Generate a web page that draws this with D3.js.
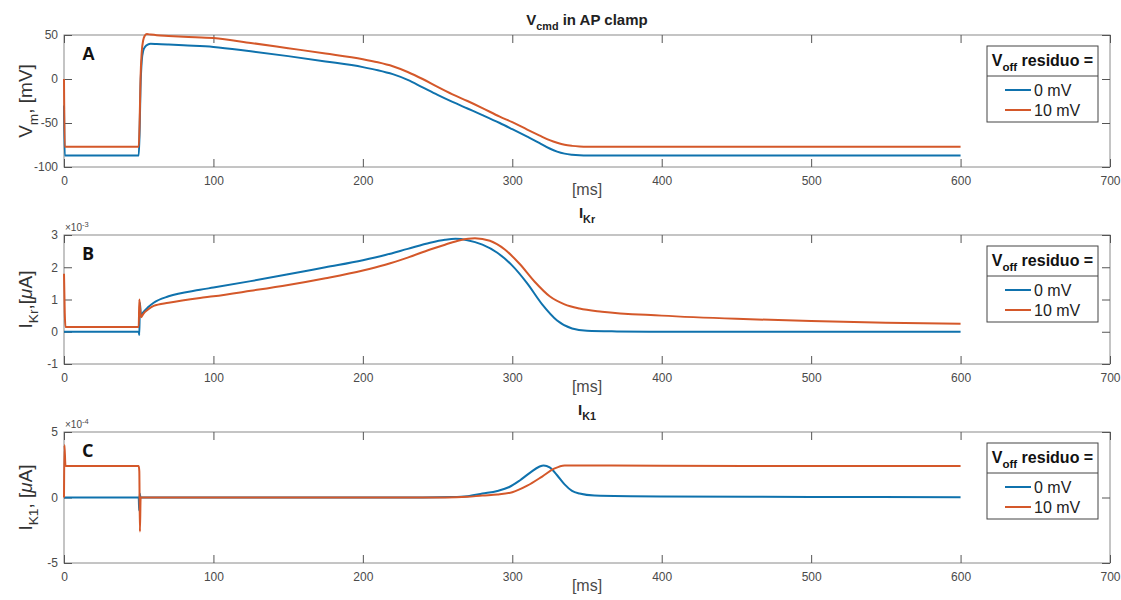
<!DOCTYPE html>
<html><head><meta charset="utf-8">
<script src="https://cdn.jsdelivr.net/npm/d3@7"></script>
<style>
body{margin:0;background:#fff;}
svg{display:block;font-family:"Liberation Sans",Arial,sans-serif;}
</style>
</head><body>
<svg id="chart" width="1121" height="600"></svg>
<script>
// ---------------- data ----------------
const seriesNames = ["0 mV", "10 mV"];
const xTicks = [0, 100, 200, 300, 400, 500, 600, 700];
const vmTicks = [-100, -50, 0, 50];
const ikrTicks = [-1, 0, 1, 2, 3];
const ik1Ticks = [-5, 0, 5];

// Panel A: membrane potential (mV)
const vmT_0 = [0,0.5,50,50.6,51.2,52,53,54.5,56,58,62,70,80,100,125,150,175,200,210,220,230,240,250,260,270,280,291.6,300,310,318,325,330,335,340,345,350,400,450,500,550,600];
const vm_0  = [-30,-87,-87,-60,-10,20,32,37,39,40,39.8,39.2,38.3,36.5,31.5,26,20,13.5,10,5.5,-1,-9.5,-18,-26,-33.5,-41,-50,-57,-65.5,-72.5,-79,-82.5,-84.8,-86,-86.7,-87,-87,-87,-87,-87,-87];
const vmT_10 = [0,0.5,50,50.6,51.2,52,53,54,55.5,58,62,70,80,100,125,150,175,200,210,220,230,240,250,260,270,280,291.6,300,310,318,325,330,335,340,345,350,400,450,500,550,600];
const vm_10  = [0,-77,-77,-50,0,30,44,49,51,50.5,49.8,49,48,46.5,41,35,29,22.5,19,14.5,8,0,-9,-17.5,-25,-33,-42.8,-49,-57.5,-64,-69.5,-72.5,-74.8,-76,-76.7,-77,-77,-77,-77,-77,-77];

// Panel B: I_Kr (x 1e-3 uA)
const ikrT_0 = [0,50,50.4,50.8,51.5,53,56,60,70,91,100,125,150,175,200,215,230,245,255,262,270,280,290,300,310,320,330,340,350,370,400,500,600];
const ikr_0  = [0,0,-0.1,0.9,0.5,0.6,0.75,0.9,1.1,1.3,1.37,1.57,1.78,2.0,2.22,2.38,2.57,2.76,2.85,2.88,2.84,2.7,2.45,2.05,1.5,0.85,0.35,0.1,0.03,0.01,0,0,0];
const ikrT_10 = [0,0.5,1,50,50.4,50.8,51.5,53,56,60,70,91,100,125,150,175,200,215,230,245,255,265,275,285,295,305,315,325,335,345,360,400,450,500,550,600];
const ikr_10  = [1.8,0.6,0.15,0.15,1.0,0.8,0.45,0.55,0.68,0.8,0.9,1.05,1.1,1.27,1.45,1.66,1.9,2.08,2.3,2.55,2.7,2.84,2.9,2.82,2.55,2.1,1.55,1.1,0.85,0.72,0.62,0.5,0.4,0.33,0.28,0.25];

// Panel C: I_K1 (x 1e-4 uA)
const ik1T_0 = [0,50,50.3,50.7,51.2,240,260,270,280,290,298,305,312,318,321,325,330,335,340,345,355,400,500,600];
const ik1_0  = [0,0,-1.0,0.3,0,0,0.03,0.1,0.3,0.5,0.8,1.3,1.9,2.35,2.45,2.3,1.7,1.0,0.5,0.3,0.15,0.08,0.04,0.02];
const ik1T_10 = [0,0.3,1,50,50.4,50.8,51.3,255,270,280,290,300,310,320,328,335,340,400,500,600];
const ik1_10  = [0,4.0,2.4,2.4,2.0,-2.6,0,0,0.05,0.15,0.22,0.4,0.9,1.6,2.2,2.45,2.45,2.42,2.4,2.4];

// ---------------- layout ----------------
const colors = ["#0f72ad", "#d4582a"];
const svg = d3.select("#chart");
svg.append("rect").attr("width",1121).attr("height",600).attr("fill","#fff");

const xLeft = 64, xRight = 1110;
const x = d3.scaleLinear().domain([0,700]).range([xLeft, xRight]);
const fmt = d => String(d);

const panels = [
  {top:35, bottom:167, domain:[-100,50], ticks:vmTicks, letter:"A", letterFont:"Liberation Sans",
   series:[[vmT_0,vm_0],[vmT_10,vm_10]], exp:null,
   title:[["V",""],["cmd","sub"],[" in AP clamp",""]],
   ylab:[["V",""],["m","sub"],[", [mV]",""]]},
  {top:235, bottom:364, domain:[-1,3], ticks:ikrTicks, letter:"B", letterFont:"Open Sans",
   series:[[ikrT_0,ikr_0],[ikrT_10,ikr_10]], exp:"-3",
   title:[["I",""],["Kr","sub"]],
   ylab:[["I",""],["Kr","sub"],[",[",""],["\u03bc","it"],["A]",""]]},
  {top:432, bottom:563, domain:[-5,5], ticks:ik1Ticks, letter:"C", letterFont:"Open Sans",
   series:[[ik1T_0,ik1_0],[ik1T_10,ik1_10]], exp:"-4",
   title:[["I",""],["K1","sub"]],
   ylab:[["I",""],["K1","sub"],[", [",""],["\u03bc","it"],["A]",""]]}
];

function richText(sel, parts, baseSize){
  parts.forEach((p,i)=>{
    const t = sel.append("tspan").text(p[0]);
    if(p[1]==="sub"){
      t.attr("font-size", baseSize*0.72).attr("dy", baseSize*0.3);
    } else {
      if(i>0 && parts[i-1][1]==="sub") t.attr("dy", -baseSize*0.3);
      if(p[1]==="it") t.attr("font-style","italic");
    }
  });
}

panels.forEach(p=>{
  const y = d3.scaleLinear().domain(p.domain).range([p.bottom, p.top]);
  const g = svg.append("g");

  g.append("rect").attr("x",xLeft).attr("y",p.top).attr("width",xRight-xLeft).attr("height",p.bottom-p.top)
    .attr("fill","none").attr("stroke","#8a8a8a").attr("stroke-width",1);

  const styleAxis = a => { a.select(".domain").remove(); a.selectAll(".tick line").attr("stroke","#555"); a.selectAll("text").attr("fill","#4a4a4a").attr("font-size",12).attr("font-family","Liberation Sans, Arial, sans-serif"); };

  g.append("g").attr("transform",`translate(0,${p.bottom})`)
    .call(d3.axisBottom(x).tickValues(xTicks).tickSize(-8).tickPadding(9).tickFormat(fmt))
    .call(styleAxis);
  g.append("g").attr("transform",`translate(0,${p.top})`)
    .call(d3.axisTop(x).tickValues(xTicks).tickSize(-8).tickFormat(""))
    .call(styleAxis);
  g.append("g").attr("transform",`translate(${xLeft},0)`)
    .call(d3.axisLeft(y).tickValues(p.ticks).tickSize(-8).tickPadding(6).tickFormat(fmt))
    .call(styleAxis);
  g.append("g").attr("transform",`translate(${xRight},0)`)
    .call(d3.axisRight(y).tickValues(p.ticks).tickSize(-8).tickFormat(""))
    .call(styleAxis);

  if(p.exp){
    const e = g.append("text").attr("x",xLeft+1).attr("y",p.top-4).attr("font-size",10).attr("fill","#4a4a4a");
    e.append("tspan").text("\u00d710");
    e.append("tspan").text(p.exp).attr("font-size",7.5).attr("dy",-4);
  }

  const line = d3.line().x(d=>x(d[0])).y(d=>y(d[1])).curve(d3.curveMonotoneX);
  p.series.forEach((s,i)=>{
    const pts = s[0].map((t,k)=>[t, s[1][k]]);
    g.append("path").datum(pts).attr("d",line).attr("fill","none")
      .attr("stroke",colors[i]).attr("stroke-width",2).attr("stroke-linejoin","round");
  });

  const tt = g.append("text").attr("x",(xLeft+xRight)/2).attr("y",p.exp ? p.top-17 : p.top-10)
    .attr("text-anchor","middle").attr("font-weight","bold").attr("font-size",15).attr("fill","#222");
  richText(tt, p.title, 15);

  g.append("text").attr("x",(xLeft+xRight)/2).attr("y",p.bottom+28).attr("text-anchor","middle")
    .attr("font-size",16).attr("fill","#4a4a4a").text("[ms]");

  const cy = (p.top+p.bottom)/2;
  const yl = g.append("text").attr("transform",`translate(32,${cy}) rotate(-90)`).attr("text-anchor","middle")
    .attr("font-size",19).attr("fill","#333");
  richText(yl, p.ylab, 19);

  g.append("text").attr("x",82).attr("y",p.top+25).attr("font-size",18).attr("font-weight","bold")
    .attr("font-family",p.letterFont+", Liberation Sans, sans-serif").attr("fill","#111").text(p.letter);

  const lx = 987, ly = p.top+11, lw = 111, lh = 76;
  const lg = g.append("g");
  lg.append("rect").attr("x",lx).attr("y",ly).attr("width",lw).attr("height",lh).attr("fill","#fff").attr("stroke","#444").attr("stroke-width",1);
  lg.append("line").attr("x1",lx).attr("x2",lx+lw).attr("y1",ly+30).attr("y2",ly+30).attr("stroke","#444");
  const ht = lg.append("text").attr("x",lx+lw/2).attr("y",ly+20).attr("text-anchor","middle")
    .attr("font-size",16).attr("font-weight","bold").attr("fill","#111");
  richText(ht, [["V",""],["off","sub"],[" residuo =",""]], 16);
  seriesNames.forEach((n,i)=>{
    const yy = ly+44+i*20;
    lg.append("line").attr("x1",1005).attr("x2",1031).attr("y1",yy).attr("y2",yy).attr("stroke",colors[i]).attr("stroke-width",2);
    lg.append("text").attr("x",1034).attr("y",yy+6).attr("font-size",16).attr("fill","#222").text(n);
  });
});
</script>
</body></html>
